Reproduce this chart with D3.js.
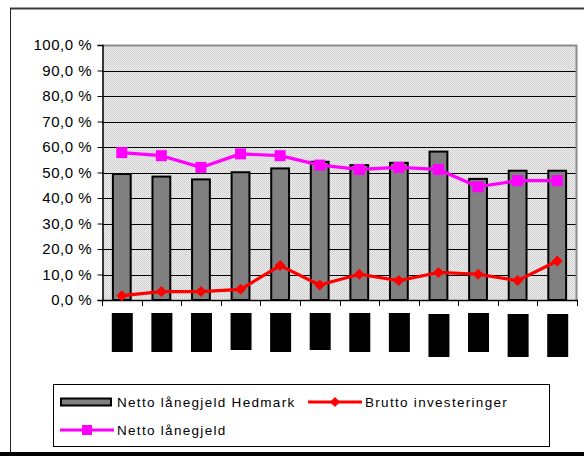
<!DOCTYPE html>
<html>
<head>
<meta charset="utf-8">
<script src="https://cdn.jsdelivr.net/npm/d3@7"></script>
<style>
  html, body { margin: 0; padding: 0; background: #fff; }
  svg { display: block; }
  text { font-family: "Liberation Sans", Arial, sans-serif; fill: #000; }
</style>
</head>
<body>
<svg id="chart" width="584" height="456"></svg>
<script>
// Category slots (labels are masked on the axis)
const categories = ["k01", "k02", "k03", "k04", "k05", "k06", "k07", "k08", "k09", "k10", "k11", "k12"];

// Netto lånegjeld Hedmark (bars), percent
const nettoHedmark = [49.4, 48.4, 47.3, 50.1, 51.6, 54.2, 52.9, 53.8, 58.2, 47.5, 50.7, 50.7];
// Brutto investeringer (red line), percent
const bruttoInv = [1.7, 3.3, 3.3, 4.2, 13.5, 5.9, 10.1, 7.6, 10.8, 10.1, 7.6, 15.3];
// Netto lånegjeld (magenta line), percent
const nettoLaan = [57.8, 56.6, 52.0, 57.3, 56.6, 52.9, 51.2, 52.0, 51.2, 44.4, 46.8, 46.8];

const yTicks = [0, 10, 20, 30, 40, 50, 60, 70, 80, 90, 100];
const legendLabels = ["Netto lånegjeld Hedmark", "Brutto investeringer", "Netto lånegjeld"];

const fmt = v => d3.format(".1f")(v).replace(".", ",") + " %";

const svg = d3.select("#chart");

// outer chart frame
svg.append("line").attr("x1", 10).attr("x2", 584).attr("y1", 8.5).attr("y2", 8.5)
  .attr("stroke", "#3a3a3a").attr("stroke-width", 2);
svg.append("line").attr("x1", 10.5).attr("x2", 10.5).attr("y1", 8).attr("y2", 453)
  .attr("stroke", "#222").attr("stroke-width", 1);
svg.append("rect").attr("x", 0).attr("y", 452).attr("width", 584).attr("height", 4).attr("fill", "#000");

const plot = { left: 102, right: 577, top: 45, bottom: 300 };

const x = d3.scaleBand().domain(categories).range([plot.left, plot.right]).padding(0);
const y = d3.scaleLinear().domain([0, 100]).range([plot.bottom, plot.top]);

// dotted plot-area fill
const defs = svg.append("defs");
const pat = defs.append("pattern").attr("id", "dots").attr("patternUnits", "userSpaceOnUse")
  .attr("width", 2).attr("height", 2);
pat.append("rect").attr("width", 2).attr("height", 2).attr("fill", "#ececec");
pat.append("rect").attr("x", 0).attr("y", 0).attr("width", 1).attr("height", 1).attr("fill", "#cdcdcd");
pat.append("rect").attr("x", 1).attr("y", 1).attr("width", 1).attr("height", 1).attr("fill", "#d6d6d6");

svg.append("rect")
  .attr("x", plot.left).attr("y", plot.top)
  .attr("width", plot.right - plot.left).attr("height", plot.bottom - plot.top)
  .attr("fill", "url(#dots)");

// horizontal gridlines
svg.append("g").selectAll("line")
  .data(yTicks.filter(t => t > 0 && t < 100))
  .join("line")
  .attr("x1", plot.left).attr("x2", plot.right)
  .attr("y1", d => Math.round(y(d)) + 0.5).attr("y2", d => Math.round(y(d)) + 0.5)
  .attr("stroke", "#000").attr("stroke-width", 1);

// plot-area border (top and right)
svg.append("path")
  .attr("d", `M${plot.left},${plot.top + 0.5}H${plot.right - 0.5}V${plot.bottom}`)
  .attr("fill", "none").attr("stroke", "#8c8c8c").attr("stroke-width", 2);

// bars
const barW = x.bandwidth() * 0.45;
svg.append("g").selectAll("rect")
  .data(nettoHedmark)
  .join("rect")
  .attr("x", (d, i) => x(categories[i]) + x.bandwidth() / 2 - barW / 2)
  .attr("y", d => y(d))
  .attr("width", barW)
  .attr("height", d => y(0) - y(d))
  .attr("fill", "#808080")
  .attr("stroke", "#000").attr("stroke-width", 2);

// y axis
const yAxis = d3.axisLeft(y).tickValues(yTicks).tickFormat(fmt).tickSize(5).tickPadding(6);
const gy = svg.append("g").attr("transform", `translate(${plot.left + 0.5},0)`).call(yAxis);
gy.select(".domain").attr("stroke", "#000").attr("stroke-width", 1.5);
gy.selectAll(".tick line").attr("stroke", "#000");
gy.selectAll(".tick text").attr("font-size", 15).attr("letter-spacing", 0.5)
  .attr("font-family", "'Liberation Sans', Arial, sans-serif").attr("fill", "#000")
  .attr("dx", 0.5);

// x axis: line and tick marks on category boundaries
svg.append("line").attr("x1", plot.left).attr("x2", plot.right + 1)
  .attr("y1", plot.bottom + 0.5).attr("y2", plot.bottom + 0.5)
  .attr("stroke", "#000").attr("stroke-width", 1.5);
const bounds = categories.map(c => x(c)).concat([plot.right]);
svg.append("g").selectAll("line")
  .data(bounds)
  .join("line")
  .attr("x1", d => Math.round(d) + 0.5).attr("x2", d => Math.round(d) + 0.5)
  .attr("y1", plot.bottom).attr("y2", plot.bottom + 6)
  .attr("stroke", "#000").attr("stroke-width", 1);

// masked category labels (vertical blocks)
const maskLength = [39, 39, 39, 37, 39, 37, 39, 39, 43, 39, 43, 43];
svg.append("g").selectAll("rect")
  .data(categories)
  .join("rect")
  .attr("x", d => x(d) + x.bandwidth() / 2 - 10)
  .attr("y", (d, i) => maskLength[i] > 40 ? 314 : 313)
  .attr("width", 21)
  .attr("height", (d, i) => maskLength[i])
  .attr("fill", "#000");

const cx = i => x(categories[i]) + x.bandwidth() / 2;

// Brutto investeringer line
const line = d3.line().x((d, i) => cx(i)).y(d => y(d));
svg.append("path").datum(bruttoInv).attr("d", line)
  .attr("fill", "none").attr("stroke", "#ff0000").attr("stroke-width", 3.2)
  .attr("stroke-linejoin", "round");
const diamond = (px, py, r) => `M${px},${py - r}L${px + r},${py}L${px},${py + r}L${px - r},${py}Z`;
svg.append("g").selectAll("path")
  .data(bruttoInv)
  .join("path")
  .attr("d", (d, i) => diamond(cx(i), y(d), 5.5))
  .attr("fill", "#ff0000");

// Netto lånegjeld line
svg.append("path").datum(nettoLaan).attr("d", line)
  .attr("fill", "none").attr("stroke", "#ff00ff").attr("stroke-width", 3.2)
  .attr("stroke-linejoin", "round");
svg.append("g").selectAll("rect")
  .data(nettoLaan)
  .join("rect")
  .attr("x", (d, i) => cx(i) - 5.5).attr("y", d => y(d) - 5.5)
  .attr("width", 11).attr("height", 11)
  .attr("fill", "#ff00ff");

// legend
const lg = svg.append("g");
lg.append("rect").attr("x", 53.5).attr("y", 384.5).attr("width", 496).attr("height", 62)
  .attr("fill", "#fff").attr("stroke", "#000").attr("stroke-width", 1);

const row1 = 402, row2 = 430;
lg.append("rect").attr("x", 61).attr("y", row1 - 3.5).attr("width", 50).attr("height", 7)
  .attr("fill", "#808080").attr("stroke", "#000").attr("stroke-width", 2);

lg.append("line").attr("x1", 308).attr("x2", 362).attr("y1", row1).attr("y2", row1)
  .attr("stroke", "#ff0000").attr("stroke-width", 3.2);
lg.append("path").attr("d", diamond(335, row1, 5)).attr("fill", "#ff0000");

lg.append("line").attr("x1", 60).attr("x2", 114).attr("y1", row2).attr("y2", row2)
  .attr("stroke", "#ff00ff").attr("stroke-width", 3.2);
lg.append("rect").attr("x", 82).attr("y", row2 - 5).attr("width", 10).attr("height", 10)
  .attr("fill", "#ff00ff");

const legendText = [
  { t: legendLabels[0], x: 117, y: row1 },
  { t: legendLabels[1], x: 365, y: row1 },
  { t: legendLabels[2], x: 117, y: row2 }
];
lg.selectAll("text.lbl")
  .data(legendText)
  .join("text")
  .attr("class", "lbl")
  .attr("x", d => d.x).attr("y", d => d.y)
  .attr("dy", "0.36em")
  .attr("font-size", 13.5)
  .attr("letter-spacing", 1.3)
  .text(d => d.t);
</script>
</body>
</html>
